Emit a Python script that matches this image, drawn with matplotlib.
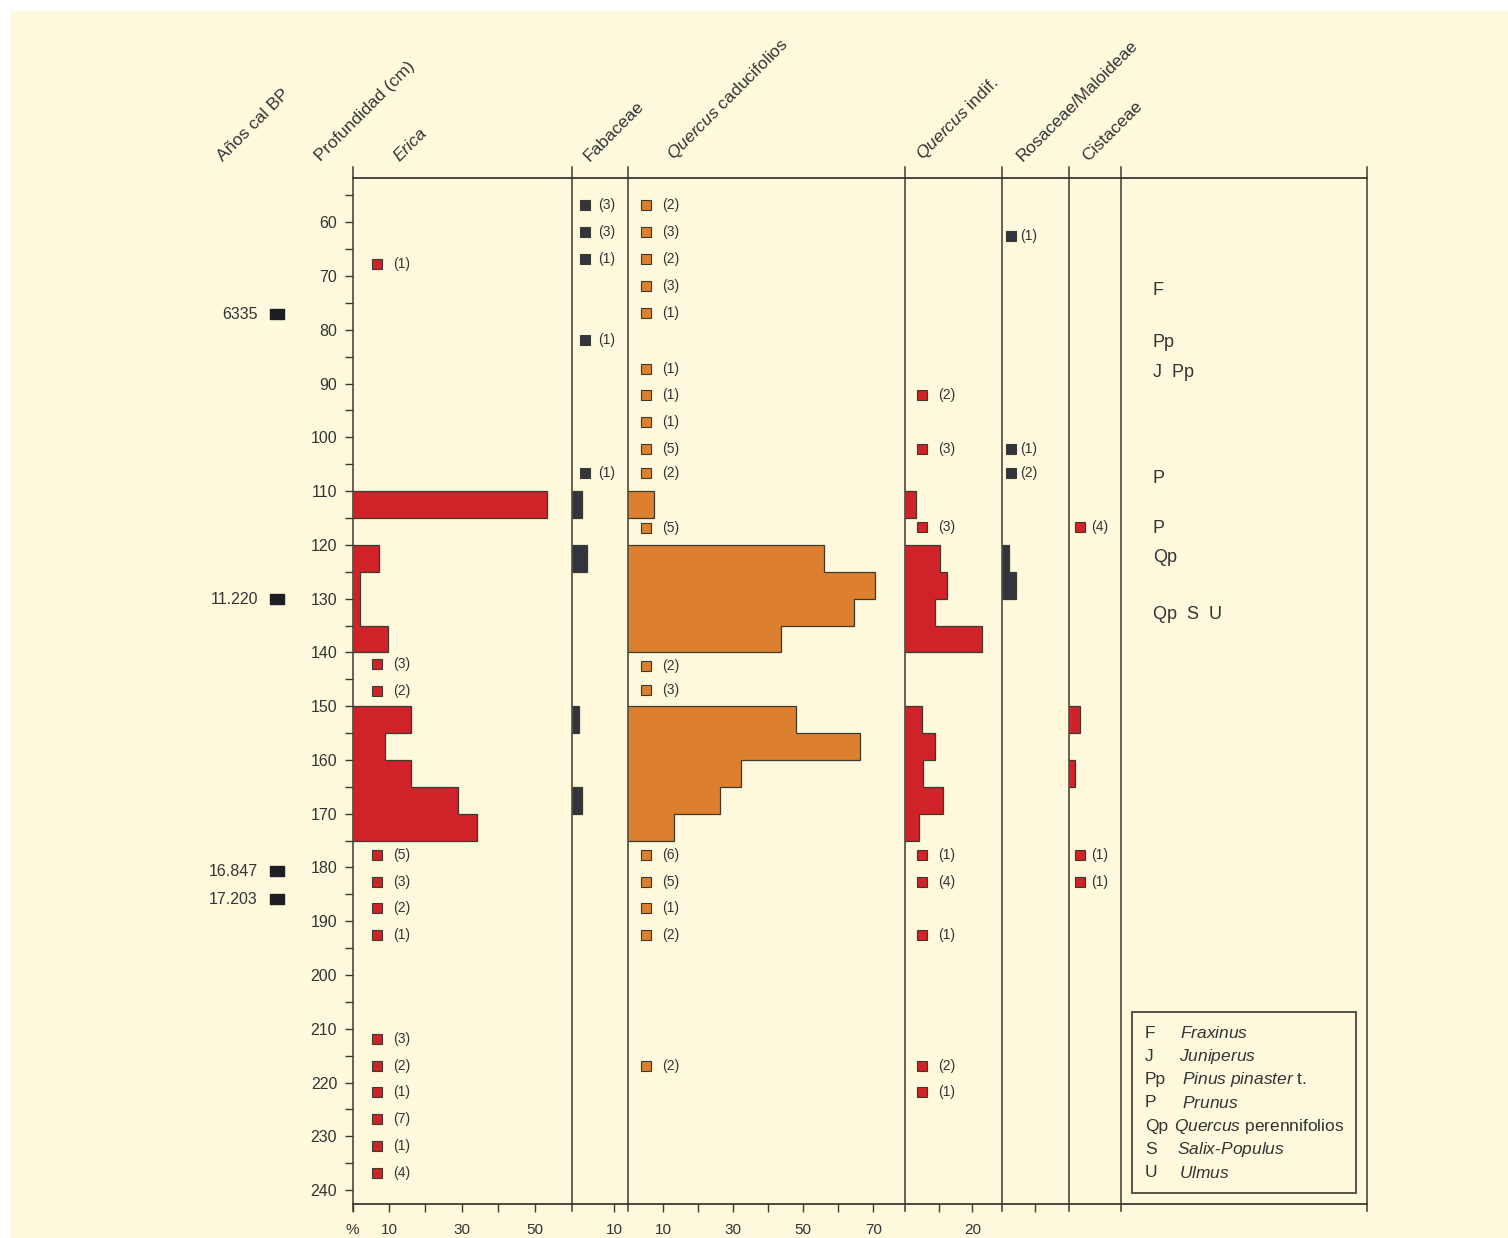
import matplotlib.pyplot as plt
import matplotlib.transforms as mtransforms
from matplotlib.patches import Rectangle

plt.rcParams['font.family'] = ['Liberation Sans', 'DejaVu Sans']
plt.rcParams['mathtext.fontset'] = 'custom'
plt.rcParams['mathtext.rm'] = 'Liberation Sans'
plt.rcParams['mathtext.it'] = 'Liberation Sans:italic'

# ---- datos (profundidad en cm, porcentajes) ----
# barras: techo del intervalo de 5 cm
erica_depth = [110, 120, 125, 130, 135, 150, 155, 160, 165, 170]
erica_pct = [53.4, 7.3, 2.1, 2.1, 9.8, 16.2, 8.8, 16.2, 29.1, 34.1]
erica_mark_depth = [67.8, 142.2, 147.2, 177.7, 182.7, 187.6, 192.6,
                    211.9, 216.9, 221.8, 226.8, 231.8, 236.9]
erica_mark_n = [1, 3, 2, 5, 3, 2, 1, 3, 2, 1, 7, 1, 4]

fab_depth = [110, 120, 150, 165]
fab_pct = [2.4, 3.6, 1.5, 2.2]
fab_mark_depth = [56.8, 61.8, 66.9, 81.9, 106.7]
fab_mark_n = [3, 3, 1, 1, 1]

qcad_depth = [110, 120, 125, 130, 135, 150, 155, 160, 165, 170]
qcad_pct = [7.5, 55.9, 70.5, 64.5, 43.7, 47.8, 66.2, 32.2, 26.2, 13.0]
qcad_mark_depth = [56.8, 61.8, 66.9, 71.8, 76.8, 87.2, 92.2, 97.2, 102.2,
                   106.7, 116.8, 142.6, 147.0, 177.7, 182.7, 187.6, 192.6,
                   216.9]
qcad_mark_n = [2, 3, 2, 3, 1, 1, 1, 1, 5, 2, 5, 2, 3, 6, 5, 1, 2, 2]

qind_depth = [110, 120, 125, 130, 135, 150, 155, 160, 165, 170]
qind_pct = [3.2, 10.4, 12.4, 8.9, 22.8, 5.1, 8.9, 5.4, 11.2, 4.2]
qind_mark_depth = [92.1, 102.2, 116.7, 177.7, 182.7, 192.6, 216.9, 221.8]
qind_mark_n = [2, 3, 3, 1, 4, 1, 2, 1]

ros_depth = [120, 125]
ros_pct = [2.2, 4.3]
ros_mark_depth = [62.5, 102.2, 106.7]
ros_mark_n = [1, 1, 2]

cis_depth = [150, 160]
cis_pct = [3.2, 1.7]
cis_mark_depth = [116.7, 177.7, 182.7]
cis_mark_n = [4, 1, 1]

# dataciones
age_labels = ['6335', '11.220', '16.847', '17.203']
age_depth = [77.1, 130.1, 180.7, 185.9]

# otros taxones
note_labels = ['F', 'Pp', 'J  Pp', 'P', 'P', 'Qp', 'Qp  S  U']
note_depth = [72.6, 82.4, 88.0, 107.7, 117.0, 122.3, 132.9]

legend_abbr = ['F', 'J', 'Pp', 'P', 'Qp', 'S', 'U']
legend_names = [r'$\mathit{Fraxinus}$', r'$\mathit{Juniperus}$',
                r'$\mathit{Pinus\ pinaster}$ t.', r'$\mathit{Prunus}$',
                r'$\mathit{Quercus}$ perennifolios', r'$\mathit{Salix}$-$\mathit{Populus}$',
                r'$\mathit{Ulmus}$']

# ---- estilo / geometria (pixeles) ----
W, H = 1508, 1238
BG = '#fef9dc'
LINE = '#3b3a2e'
TXT = '#333333'
RED = '#cf2229'
ORANGE = '#dc7f2e'
DARK = '#34343e'
TOP_Y, BOT_Y = 177.7, 1203.5
D_TOP, D_BOT = 51.7, 242.5


def fx(px):
    return px / W


def fy(py):
    return 1 - py / H


fig = plt.figure(figsize=(W / 100, H / 100), dpi=100)
fig.patch.set_facecolor('white')
fig.add_artist(Rectangle((fx(11), 0), 1, fy(11), transform=fig.transFigure,
                         facecolor=BG, edgecolor='none', zorder=-10))


def make_axes(x0, x1):
    ax = fig.add_axes([fx(x0), fy(BOT_Y), fx(x1) - fx(x0), (BOT_Y - TOP_Y) / H])
    ax.set_facecolor('none')
    ax.set_ylim(D_BOT, D_TOP)
    for s in ['left', 'right']:
        ax.spines[s].set_visible(False)
    for s in ['top', 'bottom']:
        ax.spines[s].set_color(LINE)
        ax.spines[s].set_linewidth(1.3)
    ax.axvline(0, ymin=-0.0073, ymax=1.0104, color=LINE, lw=1.1, clip_on=False)
    ax.tick_params(axis='y', left=False, labelleft=False, which='both')
    ax.tick_params(axis='x', direction='out', length=6, width=1.0, color=LINE,
                   labelsize=11, pad=8, labelcolor=TXT)
    return ax


def draw_bars(ax, depth, vals, color):
    # tramos contiguos -> un solo contorno escalonado
    runs = []
    for d, v in zip(depth, vals):
        if runs and d == runs[-1][0][-1] + 5:
            runs[-1][0].append(d)
            runs[-1][1].append(v)
        else:
            runs.append(([d], [v]))
    for ds, vs in runs:
        edges = [ds[0]] + [d + 5 for d in ds]
        ax.stairs(vs, edges, orientation='horizontal', baseline=0, fill=True,
                  facecolor=color, edgecolor=LINE, lw=0.9)


def draw_column(ax, bar_depth, bar_val, color, mark_depth, mark_n, mark_color,
                mark_dx, label_dx):
    draw_bars(ax, bar_depth, bar_val, color)
    tm = mtransforms.offset_copy(ax.transData, fig=fig, x=mark_dx, y=0, units='dots')
    ax.plot([0] * len(mark_depth), mark_depth, 's', ms=7.3, mfc=mark_color,
            mec=LINE, mew=0.8, transform=tm, clip_on=False)
    tl = mtransforms.offset_copy(ax.transData, fig=fig, x=label_dx, y=0, units='dots')
    for d, n in zip(mark_depth, mark_n):
        ax.text(0, d, f'({n})', transform=tl, ha='center', va='center',
                fontsize=10, color=TXT)


# Erica (con eje de profundidad)
ax_er = make_axes(352.5, 572.4)
ax_er.set_xlim(0, (572.4 - 352.5) / 3.64)
draw_column(ax_er, erica_depth, erica_pct, RED, erica_mark_depth, erica_mark_n,
            RED, 24, 49.5)
ax_er.set_xticks([0, 10, 20, 30, 40, 50], ['%', '10', '', '30', '', '50'])
ax_er.set_yticks(range(60, 241, 10))
ax_er.set_yticks(range(55, 241, 5), minor=True)
ax_er.tick_params(axis='y', which='both', left=True, labelleft=True,
                  direction='out', length=6, width=1.0, color=LINE,
                  labelsize=11.5, pad=5, labelcolor=TXT)

# Fabaceae
ax_fab = make_axes(572.4, 628.2)
ax_fab.set_xlim(0, (628.2 - 572.4) / 4.15)
draw_column(ax_fab, fab_depth, fab_pct, DARK, fab_mark_depth, fab_mark_n,
            DARK, 12.6, 34.6)
ax_fab.set_xticks([10], ['10'])

# Quercus caducifolios
ax_qc = make_axes(628.2, 905.0)
ax_qc.set_xlim(0, (905.0 - 628.2) / 3.5)
draw_column(ax_qc, qcad_depth, qcad_pct, ORANGE, qcad_mark_depth, qcad_mark_n,
            ORANGE, 17.3, 42.3)
ax_qc.set_xticks(range(10, 71, 10), ['10', '', '30', '', '50', '', '70'])

# Quercus indif.
ax_qi = make_axes(905.0, 1001.5)
ax_qi.set_xlim(0, (1001.5 - 905.0) / 3.37)
draw_column(ax_qi, qind_depth, qind_pct, RED, qind_mark_depth, qind_mark_n,
            RED, 16.7, 42)
ax_qi.set_xticks([10, 20], ['', '20'])

# Rosaceae/Maloideae
ax_ros = make_axes(1001.5, 1069.3)
ax_ros.set_xlim(0, (1069.3 - 1001.5) / 3.35)
draw_column(ax_ros, ros_depth, ros_pct, DARK, ros_mark_depth, ros_mark_n,
            DARK, 9.5, 27.5)
ax_ros.set_xticks([10], [''])

# Cistaceae
ax_cis = make_axes(1069.3, 1120.5)
ax_cis.set_xlim(0, (1120.5 - 1069.3) / 3.35)
draw_column(ax_cis, cis_depth, cis_pct, RED, cis_mark_depth, cis_mark_n,
            RED, 10.7, 30.2)
ax_cis.set_xticks([])

# columna de otros taxones
ax_nt = make_axes(1120.5, 1366.7)
ax_nt.set_xlim(0, 1)
ax_nt.set_xticks([])
ax_nt.axvline(1, ymin=-0.0073, ymax=1.0104, color=LINE, lw=1.1, clip_on=False)
tn = mtransforms.blended_transform_factory(ax_nt.transAxes, ax_nt.transData)
for lab, d in zip(note_labels, note_depth):
    ax_nt.text(0.132, d, lab, transform=tn, ha='left', va='center',
               fontsize=13, color=TXT)

# dataciones
ta = mtransforms.blended_transform_factory(fig.transFigure, ax_er.transData)
ax_er.plot([fx(277)] * len(age_depth), age_depth, ls='none',
           marker=[(-1.3, -1), (1.3, -1), (1.3, 1), (-1.3, 1), (-1.3, -1)],
           ms=9.4, mfc='#1e1e22', mec='#1e1e22', transform=ta, clip_on=False)
for lab, d in zip(age_labels, age_depth):
    ax_er.text(fx(258), d, lab, transform=ta, ha='right', va='center',
               fontsize=11.5, color=TXT)

# cabeceras
headers = [('Años cal BP', 225, 'normal'), ('Profundidad (cm)', 323, 'normal'),
           ('Erica', 402, 'italic'), ('Fabaceae', 592, 'normal'),
           (r'$\mathit{Quercus}$ caducifolios', 677, 'normal'),
           (r'$\mathit{Quercus}$ indif.', 926, 'normal'),
           ('Rosaceae/Maloideae', 1025, 'normal'), ('Cistaceae', 1090, 'normal')]
for txt, px, st in headers:
    fig.text(fx(px), fy(164), txt, rotation=45, rotation_mode='anchor',
             ha='left', va='bottom', fontsize=12.6, style=st, color=TXT)

# leyenda
fig.add_artist(Rectangle((fx(1132.3), fy(1193)), fx(1356) - fx(1132.3),
                         fy(1012.3) - fy(1193), transform=fig.transFigure,
                         facecolor='none', edgecolor=LINE, lw=1.2))
name_x = [1180, 1179, 1182, 1182, 1174, 1177, 1179]
for i, (ab, nm) in enumerate(zip(legend_abbr, legend_names)):
    yy = 1033 + i * 23.3
    fig.text(fx(1145), fy(yy), ab, ha='left', va='center', fontsize=12.5, color=TXT)
    fig.text(fx(name_x[i]), fy(yy), nm, ha='left', va='center', fontsize=12.5,
             color=TXT)

plt.savefig('out.png', dpi=100, facecolor=fig.get_facecolor())
